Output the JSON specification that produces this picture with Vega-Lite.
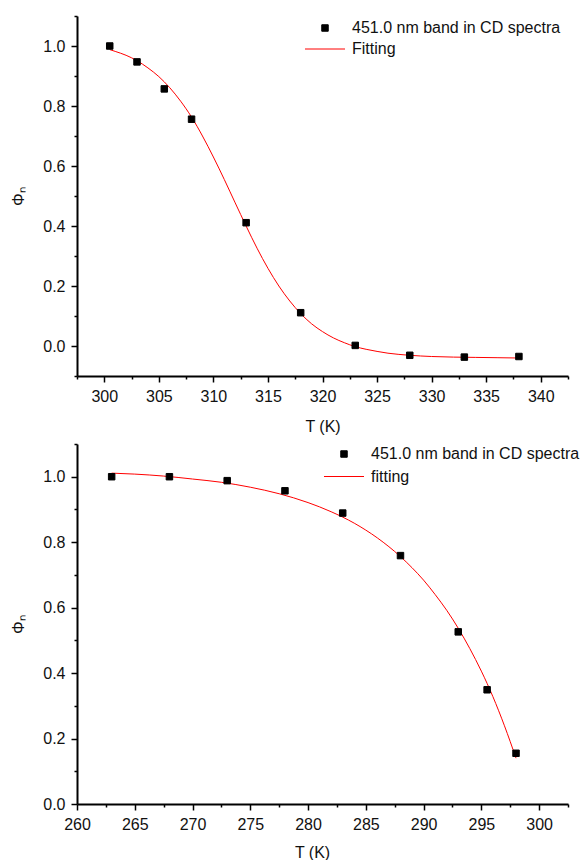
{
  "$schema": "https://vega.github.io/schema/vega-lite/v6.json",
  "padding": {"left": 10, "top": 8, "right": 5, "bottom": 0},
  "background": "white",
  "config": {
    "font": "Liberation Sans",
    "view": {"stroke": null},
    "axis": {
      "labelFont": "Liberation Sans", "labelFontSize": 16, "labelColor": "#111",
      "titleFont": "Liberation Sans", "titleFontSize": 16, "titleFontWeight": "normal", "titleColor": "#111",
      "domainColor": "black", "domainWidth": 2, "tickColor": "black", "tickWidth": 1.5,
      "grid": false, "labelOverlap": false, "labelFlush": false, "labelBound": false, "labelPadding": 6
    },
    "legend": {"labelFont": "Liberation Sans", "labelFontSize": 16, "labelColor": "#111", "labelLimit": 400, "symbolStrokeWidth": 1}
  },
  "spacing": 2,
  "resolve": {"scale": {"color": "independent", "shape": "independent", "size": "independent"}, "legend": {"color": "independent", "shape": "independent", "size": "independent"}},
  "datasets": {
    "top_pts": [
      {"T": 300.5, "phi": 1.0, "series": "451.0 nm band in CD spectra"},
      {"T": 303, "phi": 0.947, "series": "451.0 nm band in CD spectra"},
      {"T": 305.5, "phi": 0.857, "series": "451.0 nm band in CD spectra"},
      {"T": 308, "phi": 0.756, "series": "451.0 nm band in CD spectra"},
      {"T": 313, "phi": 0.411, "series": "451.0 nm band in CD spectra"},
      {"T": 318, "phi": 0.111, "series": "451.0 nm band in CD spectra"},
      {"T": 323, "phi": 0.002, "series": "451.0 nm band in CD spectra"},
      {"T": 328, "phi": -0.031, "series": "451.0 nm band in CD spectra"},
      {"T": 333, "phi": -0.037, "series": "451.0 nm band in CD spectra"},
      {"T": 338, "phi": -0.035, "series": "451.0 nm band in CD spectra"}
    ],
    "top_fit": [
      {"T": 300.5, "phi": 0.988}, {"T": 301, "phi": 0.982}, {"T": 302, "phi": 0.969},
      {"T": 303, "phi": 0.951}, {"T": 304, "phi": 0.927}, {"T": 305, "phi": 0.898},
      {"T": 306, "phi": 0.861}, {"T": 307, "phi": 0.816}, {"T": 308, "phi": 0.763},
      {"T": 309, "phi": 0.700}, {"T": 310, "phi": 0.630}, {"T": 311, "phi": 0.555},
      {"T": 312, "phi": 0.477}, {"T": 313, "phi": 0.400}, {"T": 314, "phi": 0.326},
      {"T": 315, "phi": 0.259}, {"T": 316, "phi": 0.200}, {"T": 317, "phi": 0.150},
      {"T": 318, "phi": 0.108}, {"T": 319, "phi": 0.074}, {"T": 320, "phi": 0.048},
      {"T": 321, "phi": 0.027}, {"T": 322, "phi": 0.011}, {"T": 323, "phi": -0.002},
      {"T": 324, "phi": -0.011}, {"T": 325, "phi": -0.018}, {"T": 326, "phi": -0.024},
      {"T": 327, "phi": -0.028}, {"T": 328, "phi": -0.031}, {"T": 330, "phi": -0.035},
      {"T": 332, "phi": -0.037}, {"T": 334, "phi": -0.038}, {"T": 336, "phi": -0.039},
      {"T": 338, "phi": -0.040}
    ],
    "bot_pts": [
      {"T": 263, "phi": 1.0, "series": "451.0 nm band in CD spectra"},
      {"T": 268, "phi": 1.0, "series": "451.0 nm band in CD spectra"},
      {"T": 273, "phi": 0.988, "series": "451.0 nm band in CD spectra"},
      {"T": 278, "phi": 0.957, "series": "451.0 nm band in CD spectra"},
      {"T": 283, "phi": 0.889, "series": "451.0 nm band in CD spectra"},
      {"T": 288, "phi": 0.759, "series": "451.0 nm band in CD spectra"},
      {"T": 293, "phi": 0.526, "series": "451.0 nm band in CD spectra"},
      {"T": 295.5, "phi": 0.349, "series": "451.0 nm band in CD spectra"},
      {"T": 298, "phi": 0.155, "series": "451.0 nm band in CD spectra"}
    ],
    "bot_fit": [
      {"T": 263, "phi": 1.011}, {"T": 265, "phi": 1.008}, {"T": 267.5, "phi": 1.002},
      {"T": 270, "phi": 0.993}, {"T": 272.5, "phi": 0.983}, {"T": 275, "phi": 0.968},
      {"T": 277.5, "phi": 0.948}, {"T": 280, "phi": 0.921}, {"T": 282, "phi": 0.893},
      {"T": 284, "phi": 0.858}, {"T": 286, "phi": 0.813}, {"T": 288, "phi": 0.756},
      {"T": 289, "phi": 0.722}, {"T": 290, "phi": 0.684}, {"T": 291, "phi": 0.640},
      {"T": 292, "phi": 0.592}, {"T": 293, "phi": 0.537}, {"T": 294, "phi": 0.475},
      {"T": 295, "phi": 0.406}, {"T": 296, "phi": 0.328}, {"T": 297, "phi": 0.239},
      {"T": 298, "phi": 0.140}
    ]
  },
  "vconcat": [
    {
      "width": 491, "height": 360,
      "encoding": {
        "x": {
          "field": "T", "type": "quantitative", "title": "T (K)",
          "scale": {"domain": [297.5, 342.5], "nice": false, "zero": false},
          "axis": {
            "values": [297.5, 300, 302.5, 305, 307.5, 310, 312.5, 315, 317.5, 320, 322.5, 325, 327.5, 330, 332.5, 335, 337.5, 340, 342.5],
            "labelExpr": "datum.value % 5 === 0 ? datum.label : ''",
            "tickSize": {"condition": {"test": "datum.value % 5 === 0", "value": 6}, "value": 3},
            "titlePadding": 14
          }
        },
        "y": {
          "field": "phi", "type": "quantitative", "title": "Φₙ",
          "scale": {"domain": [-0.1, 1.1], "nice": false, "zero": false},
          "axis": {
            "values": [-0.1, 0, 0.1, 0.2, 0.3, 0.4, 0.5, 0.6, 0.7, 0.8, 0.9, 1.0, 1.1],
            "format": ".1f",
            "labelExpr": "abs(round(datum.value * 10)) % 2 === 0 ? datum.label : ''",
            "tickSize": {"condition": {"test": "abs(round(datum.value * 10)) % 2 === 0", "value": 6}, "value": 3},
            "titlePadding": 16
          }
        }
      },
      "layer": [
        {
          "data": {"name": "top_fit"},
          "mark": {"type": "line", "color": "red", "strokeWidth": 1, "interpolate": "monotone"}
        },
        {
          "data": {"name": "top_pts"},
          "mark": {"type": "point", "filled": false, "fill": "black", "fillOpacity": 1, "strokeWidth": 1, "opacity": 1},
          "encoding": {
            "color": {
              "field": "series", "type": "ordinal",
              "scale": {"domain": ["451.0 nm band in CD spectra", "Fitting"], "range": ["black", "red"]},
              "legend": {"title": null, "orient": "none", "legendX": 240, "legendY": 4, "labelOffset": 19, "rowPadding": 5, "padding": 0}
            },
            "shape": {
              "field": "series", "type": "ordinal",
              "scale": {"domain": ["451.0 nm band in CD spectra", "Fitting"], "range": ["square", "M-3,0H3"]},
              "legend": {"title": null, "orient": "none", "legendX": 240, "legendY": 4, "labelOffset": 19, "rowPadding": 5, "padding": 0}
            },
            "size": {
              "field": "series", "type": "ordinal",
              "scale": {"domain": ["451.0 nm band in CD spectra", "Fitting"], "range": [42, 178]},
              "legend": {"title": null, "orient": "none", "legendX": 240, "legendY": 4, "labelOffset": 19, "rowPadding": 5, "padding": 0}
            }
          }
        }
      ]
    },
    {
      "width": 491, "height": 360,
      "encoding": {
        "x": {
          "field": "T", "type": "quantitative", "title": "T (K)",
          "scale": {"domain": [260, 302.5], "nice": false, "zero": false},
          "axis": {
            "values": [260, 262.5, 265, 267.5, 270, 272.5, 275, 277.5, 280, 282.5, 285, 287.5, 290, 292.5, 295, 297.5, 300, 302.5],
            "labelExpr": "datum.value % 5 === 0 ? datum.label : ''",
            "tickSize": {"condition": {"test": "datum.value % 5 === 0", "value": 6}, "value": 3},
            "titlePadding": 12,
            "titleX": 235
          }
        },
        "y": {
          "field": "phi", "type": "quantitative", "title": "Φₙ",
          "scale": {"domain": [0, 1.1], "nice": false, "zero": false},
          "axis": {
            "values": [0, 0.1, 0.2, 0.3, 0.4, 0.5, 0.6, 0.7, 0.8, 0.9, 1.0, 1.1],
            "format": ".1f",
            "labelExpr": "abs(round(datum.value * 10)) % 2 === 0 ? datum.label : ''",
            "tickSize": {"condition": {"test": "abs(round(datum.value * 10)) % 2 === 0", "value": 6}, "value": 3},
            "titlePadding": 16
          }
        }
      },
      "layer": [
        {
          "data": {"name": "bot_fit"},
          "mark": {"type": "line", "color": "red", "strokeWidth": 1, "interpolate": "monotone"}
        },
        {
          "data": {"name": "bot_pts"},
          "mark": {"type": "point", "filled": false, "fill": "black", "fillOpacity": 1, "strokeWidth": 1, "opacity": 1},
          "encoding": {
            "color": {
              "field": "series", "type": "ordinal",
              "scale": {"domain": ["451.0 nm band in CD spectra", "fitting"], "range": ["black", "red"]},
              "legend": {"title": null, "orient": "none", "legendX": 259, "legendY": 2, "labelOffset": 19, "rowPadding": 6.5, "padding": 0}
            },
            "shape": {
              "field": "series", "type": "ordinal",
              "scale": {"domain": ["451.0 nm band in CD spectra", "fitting"], "range": ["square", "M-3,0H3"]},
              "legend": {"title": null, "orient": "none", "legendX": 259, "legendY": 2, "labelOffset": 19, "rowPadding": 6.5, "padding": 0}
            },
            "size": {
              "field": "series", "type": "ordinal",
              "scale": {"domain": ["451.0 nm band in CD spectra", "fitting"], "range": [42, 178]},
              "legend": {"title": null, "orient": "none", "legendX": 259, "legendY": 2, "labelOffset": 19, "rowPadding": 6.5, "padding": 0}
            }
          }
        }
      ]
    }
  ]
}
